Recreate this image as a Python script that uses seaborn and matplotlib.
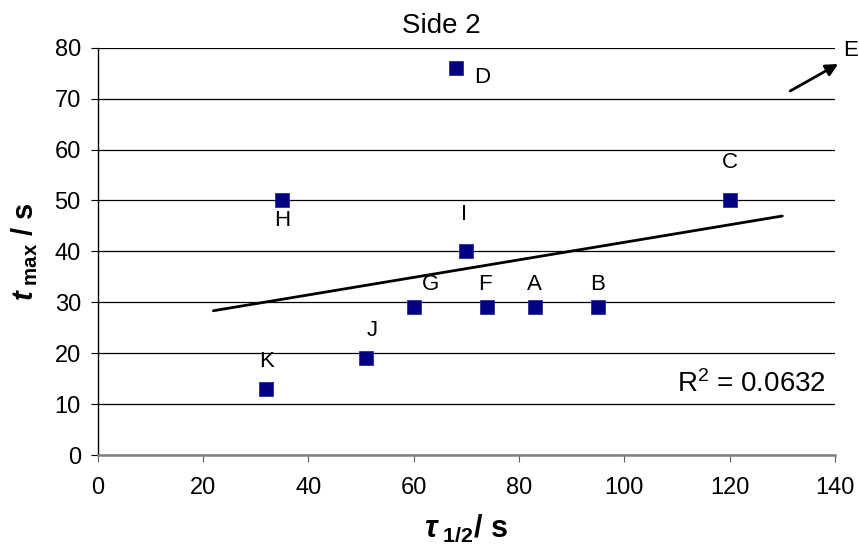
import numpy as np
import pandas as pd
import matplotlib
matplotlib.use("Agg")
import matplotlib.pyplot as plt
import seaborn as sns

# Half-life (tau 1/2) and time-to-maximum for each sample, side 2
labels = ["A", "B", "C", "D", "F", "G", "H", "I", "J", "K"]
tau_half = [83, 95, 120, 68, 74, 60, 35, 70, 51, 32]
t_max = [29, 29, 50, 76, 29, 29, 50, 40, 19, 13]

# Sample E lies beyond the plotted range; shown only with an arrow
outlier_label = "E"

df = pd.DataFrame({"label": labels, "tau": tau_half, "tmax": t_max})

sns.set_theme(style="white")
plt.rcParams["font.family"] = ["Liberation Sans", "DejaVu Sans"]
plt.rcParams["text.color"] = "black"
plt.rcParams["axes.labelcolor"] = "black"
plt.rcParams["xtick.labelcolor"] = "black"
plt.rcParams["ytick.labelcolor"] = "black"
plt.rcParams["mathtext.fontset"] = "custom"
plt.rcParams["mathtext.rm"] = "Liberation Sans:bold"
plt.rcParams["mathtext.it"] = "Liberation Sans:italic:bold"
plt.rcParams["mathtext.bf"] = "Liberation Sans:bold"

W, H = 859, 546
fig = plt.figure(figsize=(W / 100, H / 100), dpi=100)
x0, x1, y0, y1 = 97.5, 835, 47.7, 455
ax = fig.add_axes([x0 / W, 1 - y1 / H, (x1 - x0) / W, (y1 - y0) / H])

# Linear trend (least squares) extended 10 units either side of the data
slope, intercept = np.polyfit(df["tau"], df["tmax"], 1)
pred = slope * df["tau"] + intercept
r2 = 1 - ((df["tmax"] - pred) ** 2).sum() / ((df["tmax"] - df["tmax"].mean()) ** 2).sum()
trend = pd.DataFrame({"tau": [df["tau"].min() - 10, df["tau"].max() + 10]})
trend["tmax"] = slope * trend["tau"] + intercept

ax.set_xlim(0, 140)
ax.set_ylim(0, 80)
ax.set_xticks(range(0, 141, 20))
ax.set_yticks(range(0, 81, 10))
ax.yaxis.grid(True, color="black", linewidth=0.9)
ax.xaxis.grid(False)
ax.set_axisbelow(True)

sns.lineplot(data=trend, x="tau", y="tmax", color="black", linewidth=2.0, ax=ax, zorder=3)
sns.scatterplot(data=df, x="tau", y="tmax", marker="s", s=110, color="#000080",
                edgecolor="#2b2b9c", linewidth=0.6, ax=ax, zorder=4, legend=False)

# Point label offsets in pixels (right, down)
offsets = {"A": (0, -23), "B": (0, -23), "C": (0, -38), "D": (26, 9.5),
           "F": (-2, -23), "G": (17, -23), "H": (0, 20), "I": (-2, -37),
           "J": (6, -28), "K": (0, -27)}
k = 72 / 100
for lab, xv, yv in zip(labels, tau_half, t_max):
    dx, dy = offsets[lab]
    ax.annotate(lab, (xv, yv), xytext=(dx * k, -dy * k), textcoords="offset points",
                ha="center", va="center", fontsize=16, color="black", zorder=5)

# Arrow pointing to the off-scale sample E
ax.annotate("", xy=(140.6, 76.8), xytext=(131.5, 71.5),
            arrowprops=dict(arrowstyle="-|>", color="black", lw=2, mutation_scale=18,
                            shrinkA=0, shrinkB=0),
            annotation_clip=False, zorder=5)
ax.text(143.0, 79.4, outlier_label, ha="center", va="center", fontsize=16,
        clip_on=False)

ax.text(138.3, 12.4, r"R$^{\mathregular{2}}$ = " + f"{r2:.4f}", ha="right",
        va="baseline", fontsize=20)

for side in ("top", "right"):
    ax.spines[side].set_visible(False)
ax.spines["left"].set_color("black")
ax.spines["left"].set_linewidth(1.0)
ax.spines["bottom"].set_color("#808080")
ax.spines["bottom"].set_linewidth(1.8)

ax.tick_params(axis="y", direction="out", length=5, width=0.8, color="black",
               labelsize=17, pad=7, left=True)
ax.tick_params(axis="x", direction="out", length=5, width=0.8, color="#606060",
               labelsize=17, pad=11, bottom=True)

ax.set_xlabel(r"$\tau_{\ 1/2}$/ s", fontsize=22, fontweight="bold")
ax.set_ylabel(r"$t_{\ \mathrm{max}}$ / s", fontsize=21, fontweight="bold")
ax.xaxis.set_label_coords(0.5, (y1 - 528) / (y1 - y0))
ax.xaxis.label.set_va("center")
ax.yaxis.set_label_coords((25 - x0) / (x1 - x0), 0.5)
ax.yaxis.label.set_va("center")

fig.text(441 / W, 1 - 33 / H, "Side 2", ha="center", va="baseline", fontsize=20)

fig.savefig("out.png", dpi=100, facecolor="white")
